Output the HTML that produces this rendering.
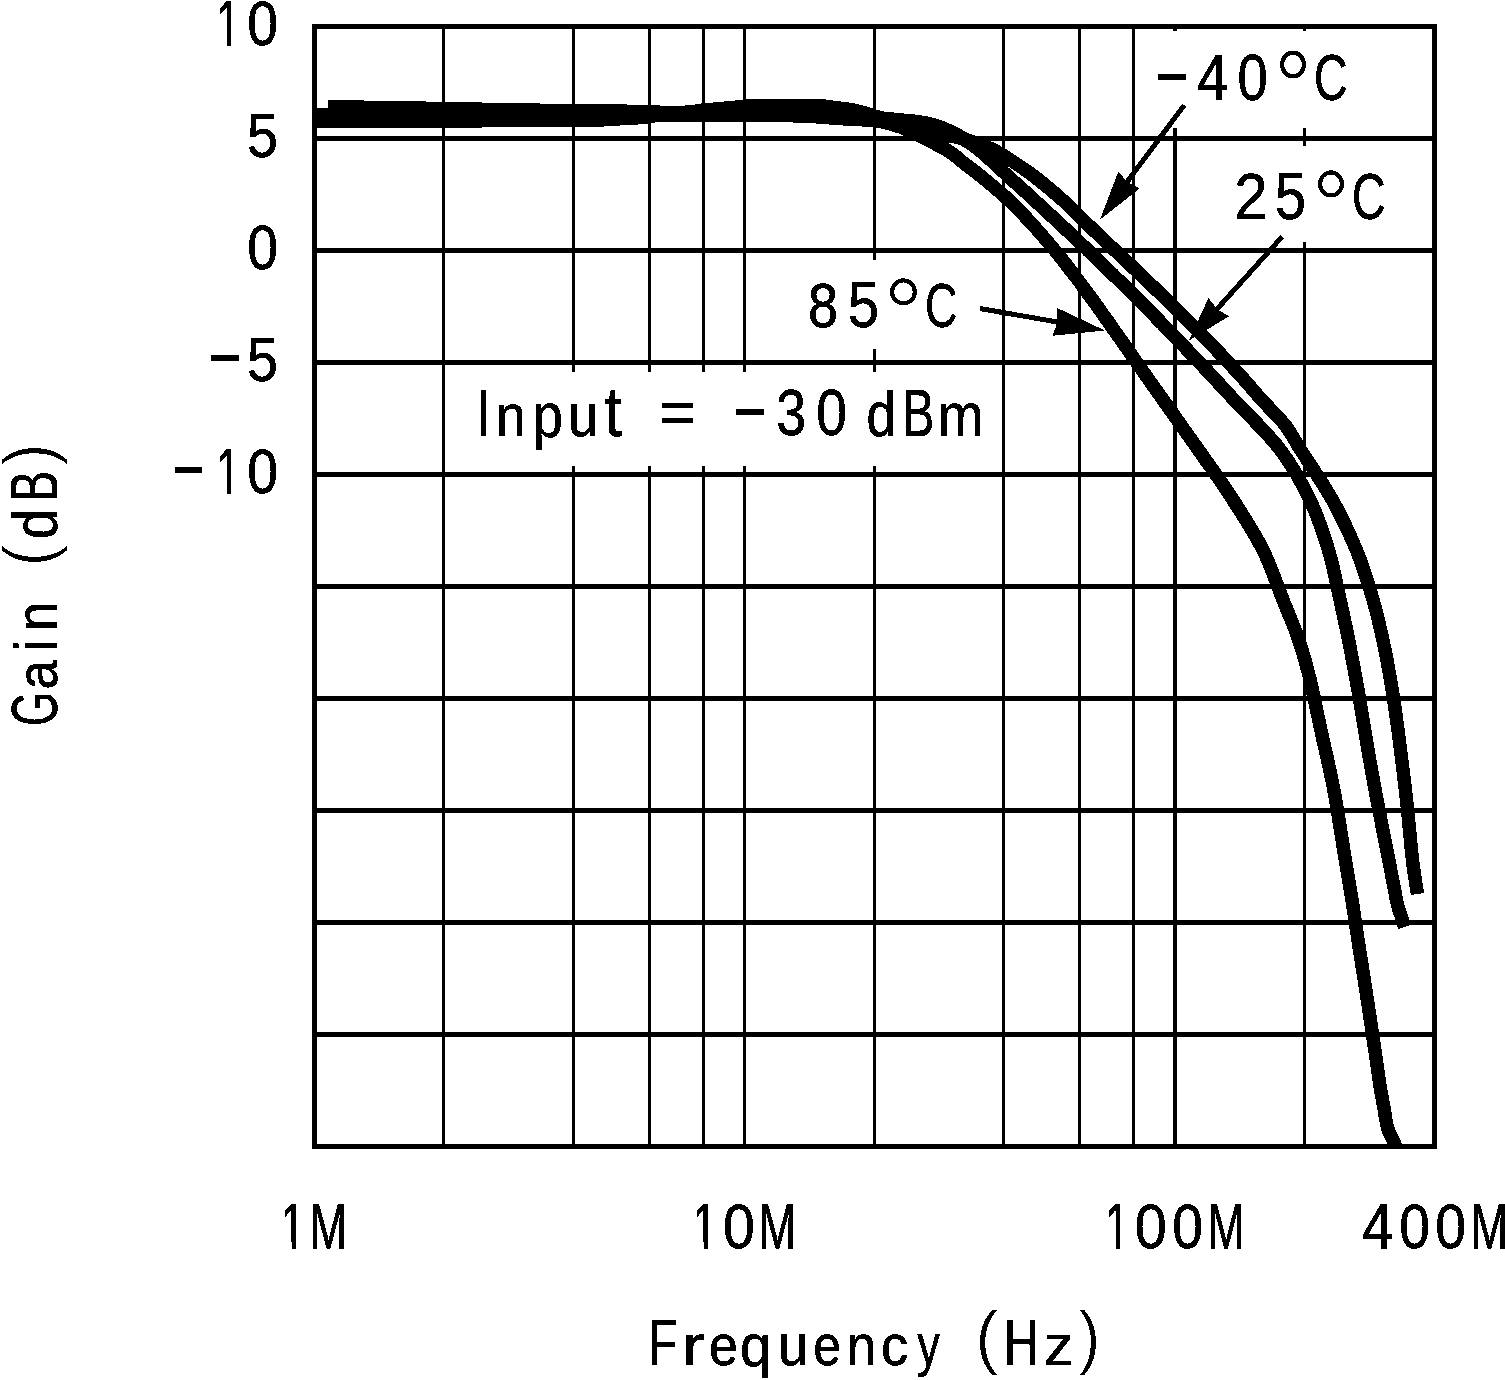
<!DOCTYPE html>
<html lang="en"><head><meta charset="utf-8"><title>Gain vs Frequency</title>
<style>
html,body{margin:0;padding:0;background:#fff;overflow:hidden}
svg{display:block;will-change:transform}
text{font-family:"Liberation Sans",Arial,sans-serif;fill:#000;stroke:#000;stroke-width:0.6px;stroke-linejoin:round}
tspan.d{stroke:#fff;stroke-width:1.0px}
.cv path{fill:none;stroke:#000;stroke-width:13.5;stroke-linejoin:round;stroke-linecap:butt}
.ar line{stroke:#000;stroke-width:5}
</style></head>
<body>
<svg width="1505" height="1380" viewBox="0 0 1505 1380" role="img" aria-label="Gain (dB) versus Frequency (Hz) at -40°C, 25°C and 85°C, Input = -30 dBm">
<defs>
<filter id="bin" filterUnits="userSpaceOnUse" x="0" y="0" width="1505" height="1380" color-interpolation-filters="sRGB"><feComponentTransfer><feFuncR type="discrete" tableValues="0 1"/><feFuncG type="discrete" tableValues="0 1"/><feFuncB type="discrete" tableValues="0 1"/></feComponentTransfer></filter>
<clipPath id="pc"><rect x="312" y="24" width="1125" height="1125"/></clipPath>
</defs>
<g filter="url(#bin)">
<rect width="1505" height="1380" fill="#fff"/>
<g fill="#000">
<rect x="442" y="24" width="3" height="1125"/>
<rect x="572" y="24" width="3" height="348"/>
<rect x="572" y="466" width="3" height="683"/>
<rect x="648" y="24" width="3" height="348"/>
<rect x="648" y="466" width="3" height="683"/>
<rect x="702" y="24" width="3" height="348"/>
<rect x="702" y="466" width="3" height="683"/>
<rect x="743" y="24" width="3" height="348"/>
<rect x="743" y="466" width="3" height="683"/>
<rect x="873" y="24" width="3" height="236"/>
<rect x="873" y="349" width="3" height="23"/>
<rect x="873" y="466" width="3" height="683"/>
<rect x="1002" y="24" width="3" height="1125"/>
<rect x="1078" y="24" width="3" height="1125"/>
<rect x="1132" y="24" width="3" height="1125"/>
<rect x="1173" y="24" width="4" height="7"/>
<rect x="1173" y="128" width="4" height="1021"/>
<rect x="1303" y="24" width="3" height="7"/>
<rect x="1303" y="128" width="3" height="18"/>
<rect x="1303" y="242" width="3" height="907"/>
<rect x="312" y="136" width="1125" height="5"/>
<rect x="312" y="248" width="1125" height="5"/>
<rect x="312" y="360" width="1125" height="5"/>
<rect x="312" y="472" width="1125" height="5"/>
<rect x="312" y="584" width="1125" height="5"/>
<rect x="312" y="696" width="1125" height="5"/>
<rect x="312" y="808" width="1125" height="5"/>
<rect x="312" y="920" width="1125" height="5"/>
<rect x="312" y="1032" width="1125" height="5"/>
</g>
<g class="cv" clip-path="url(#pc)">
<path d="M328.0,106.5 C337.3,106.7 365.3,107.2 384.0,107.5 C402.7,107.8 421.3,108.2 440.0,108.5 C458.7,108.8 477.3,109.2 496.0,109.5 C514.7,109.8 534.7,110.3 552.0,110.5 C569.3,110.7 585.3,110.6 600.0,110.8 C614.7,111.0 628.3,111.2 640.0,111.5 C651.7,111.8 661.7,112.4 670.0,112.5 C678.3,112.6 685.0,112.3 690.0,112.0 C695.0,111.7 695.0,111.0 700.0,110.5 C705.0,110.0 713.3,109.4 720.0,108.8 C726.7,108.2 734.2,107.3 740.0,106.8 C745.8,106.2 742.5,105.7 755.0,105.5 C767.5,105.3 802.5,105.2 815.0,105.5 C827.5,105.8 824.2,106.3 830.0,107.0 C835.8,107.7 844.2,108.5 850.0,109.5 C855.8,110.5 860.0,111.7 865.0,113.0 C870.0,114.3 874.2,116.3 880.0,117.5 C885.8,118.7 893.3,119.2 900.0,120.0 C906.7,120.8 913.8,121.0 920.0,122.0 C926.2,123.0 931.7,124.3 937.0,126.0 C942.3,127.7 947.3,129.8 952.0,132.0 C956.7,134.2 958.7,136.3 965.0,139.0 C971.3,141.7 983.3,145.4 990.0,148.3 C996.7,151.2 998.0,152.1 1005.0,156.5 C1012.0,160.9 1022.7,167.8 1032.3,175.0 C1041.9,182.2 1053.2,191.7 1062.5,200.0 C1071.8,208.3 1079.6,216.7 1088.3,225.0 C1097.0,233.3 1105.8,241.7 1114.6,250.0 C1123.4,258.3 1132.2,266.7 1140.9,275.0 C1149.6,283.3 1159.2,292.5 1166.9,300.0 C1174.6,307.5 1180.6,313.3 1187.3,320.0 C1194.0,326.7 1198.3,330.8 1207.1,340.0 C1215.9,349.2 1230.9,365.0 1240.0,375.0 C1249.1,385.0 1254.4,391.7 1261.9,400.0 C1269.4,408.3 1278.5,416.7 1285.0,425.0 C1291.5,433.3 1292.8,437.5 1300.7,450.0 C1308.6,462.5 1323.1,483.3 1332.4,500.0 C1341.7,516.7 1349.6,533.3 1356.4,550.0 C1363.2,566.7 1368.3,583.3 1373.1,600.0 C1377.9,616.7 1381.8,634.6 1385.0,650.0 C1388.2,665.4 1390.3,679.1 1392.5,692.4 C1394.7,705.7 1395.7,712.1 1398.0,730.0 C1400.3,747.9 1404.1,778.3 1406.5,800.0 C1408.9,821.7 1410.7,844.3 1412.5,860.0 C1414.3,875.7 1416.7,888.3 1417.5,894.0"/>
<path d="M314.0,114.5 C316.3,114.5 316.3,114.5 328.0,114.5 C339.7,114.5 365.3,114.4 384.0,114.5 C402.7,114.6 421.3,114.9 440.0,115.0 C458.7,115.1 477.3,114.9 496.0,115.0 C514.7,115.1 534.7,115.4 552.0,115.5 C569.3,115.6 585.3,115.5 600.0,115.3 C614.7,115.2 628.3,114.7 640.0,114.5 C651.7,114.3 660.0,114.2 670.0,114.0 C680.0,113.8 688.3,113.5 700.0,113.0 C711.7,112.5 726.7,111.6 740.0,111.2 C753.3,110.7 767.5,110.5 780.0,110.5 C792.5,110.5 803.3,110.5 815.0,111.1 C826.7,111.8 839.2,112.9 850.0,114.2 C860.8,115.6 870.0,117.5 880.0,119.5 C890.0,121.4 900.8,123.7 910.0,126.2 C919.2,128.7 926.7,132.7 935.0,134.6 C943.3,136.6 952.5,135.2 960.0,137.9 C967.5,140.6 972.2,144.4 980.0,150.6 C987.8,156.8 997.7,166.8 1006.7,175.0 C1015.7,183.2 1025.2,191.7 1034.2,200.0 C1043.3,208.3 1052.3,216.7 1061.2,225.0 C1070.1,233.3 1078.9,241.7 1087.6,250.0 C1096.3,258.3 1104.9,266.7 1113.4,275.0 C1122.0,283.3 1131.2,292.5 1138.7,300.0 C1146.2,307.5 1152.0,313.3 1158.5,320.0 C1165.1,326.7 1169.2,330.8 1178.0,340.0 C1186.8,349.2 1201.8,365.0 1211.2,375.0 C1220.5,385.0 1222.6,387.5 1234.2,400.0 C1245.7,412.5 1267.9,433.3 1280.5,450.0 C1293.1,466.7 1302.0,483.3 1310.0,500.0 C1318.0,516.7 1323.5,533.3 1328.5,550.0 C1333.5,566.7 1336.8,585.0 1340.1,600.0 C1343.4,615.0 1345.5,624.6 1348.6,640.0 C1351.6,655.4 1355.2,674.1 1358.4,692.4 C1361.6,710.7 1364.9,732.1 1368.0,750.0 C1371.1,767.9 1373.5,781.7 1377.0,800.0 C1380.5,818.3 1385.9,845.3 1388.8,860.0 C1391.7,874.7 1392.7,880.5 1394.2,888.0 C1395.7,895.5 1396.3,900.0 1397.6,905.0 C1398.9,910.0 1400.6,914.3 1401.8,918.0 C1403.0,921.7 1404.0,925.7 1404.5,927.2"/>
<path d="M314.0,121.5 C325.7,121.5 363.0,121.5 384.0,121.5 C405.0,121.5 426.7,121.6 440.0,121.5 C453.3,121.4 454.7,121.2 464.0,121.0 C473.3,120.8 481.3,120.6 496.0,120.5 C510.7,120.4 534.7,120.6 552.0,120.5 C569.3,120.4 585.3,120.4 600.0,119.9 C614.7,119.4 630.0,118.2 640.0,117.5 C650.0,116.8 650.0,115.8 660.0,115.5 C670.0,115.2 680.0,115.5 700.0,115.5 C720.0,115.5 763.3,115.4 780.0,115.5 C796.7,115.6 793.3,115.8 800.0,116.0 C806.7,116.2 813.3,116.6 820.0,117.0 C826.7,117.4 833.3,118.1 840.0,118.5 C846.7,118.9 853.3,119.0 860.0,119.5 C866.7,120.0 873.3,120.2 880.0,121.4 C886.7,122.7 894.0,124.9 900.0,127.0 C906.0,129.1 911.0,131.7 916.0,134.0 C921.0,136.3 924.3,138.0 930.0,141.0 C935.7,144.0 944.2,148.2 950.0,152.0 C955.8,155.8 960.0,160.1 965.0,164.0 C970.0,167.9 972.7,169.5 980.0,175.5 C987.3,181.5 1000.0,191.8 1008.8,200.0 C1017.6,208.2 1025.3,216.7 1032.9,225.0 C1040.5,233.3 1047.6,241.7 1054.5,250.0 C1061.4,258.3 1067.8,266.7 1074.2,275.0 C1080.6,283.3 1087.2,292.5 1092.7,300.0 C1098.2,307.5 1103.2,314.7 1107.0,320.0 C1110.8,325.3 1110.8,325.4 1115.4,332.0 C1120.0,338.6 1129.7,352.3 1134.7,359.5 C1139.7,366.7 1140.8,368.2 1145.5,375.0 C1150.2,381.8 1154.4,387.5 1163.2,400.0 C1172.0,412.5 1186.9,433.3 1198.6,450.0 C1210.2,466.7 1222.4,483.3 1233.1,500.0 C1243.8,516.7 1254.7,533.3 1263.0,550.0 C1271.3,566.7 1277.0,585.0 1283.0,600.0 C1289.0,615.0 1294.4,627.0 1298.8,640.0 C1303.2,653.0 1305.8,662.0 1309.6,677.7 C1313.4,693.4 1317.7,715.4 1321.8,734.2 C1325.9,753.0 1330.1,769.7 1334.0,790.7 C1337.9,811.7 1342.3,841.8 1345.3,860.0 C1348.3,878.2 1349.9,886.7 1352.0,900.0 C1354.1,913.3 1356.0,926.7 1358.0,940.0 C1360.0,953.3 1361.9,964.7 1364.3,980.0 C1366.7,995.3 1369.6,1014.7 1372.2,1032.0 C1374.8,1049.3 1377.7,1071.0 1379.7,1084.0 C1381.7,1097.0 1383.0,1102.5 1384.3,1110.0 C1385.6,1117.5 1386.1,1123.2 1387.8,1128.7 C1389.5,1134.2 1392.6,1139.1 1394.3,1143.0 C1396.0,1146.9 1397.4,1150.5 1398.0,1152.0"/>
</g>
<rect x="314.5" y="26.5" width="1120" height="1120" fill="none" stroke="#000" stroke-width="5"/>
<g class="ar" fill="#000">
<line x1="1184.2" y1="105.2" x2="1127" y2="182"/>
<polygon points="1099.9,219.8 1118.3,171.8 1127.5,182 1139.9,188.3"/>
<line x1="1282.2" y1="236.7" x2="1217" y2="309"/>
<polygon points="1188.7,340.7 1208.5,298 1217.5,309.5 1229.1,316.3"/>
<line x1="980" y1="308.5" x2="1060" y2="322.5"/>
<polygon points="1105,330.4 1057.2,307.9 1056.7,324.9 1052.2,335.8"/>
</g>
<text><tspan x="216.19" y="45.7" font-size="64.54" textLength="23.74" lengthAdjust="spacingAndGlyphs">1</tspan><tspan x="247.14" y="45.09" font-size="62.71" textLength="30.71" lengthAdjust="spacingAndGlyphs">0</tspan></text>
<text><tspan x="247.07" y="157.08" font-size="63.63" textLength="30.97" lengthAdjust="spacingAndGlyphs">5</tspan></text>
<text><tspan x="247.14" y="269.09" font-size="62.71" textLength="30.71" lengthAdjust="spacingAndGlyphs">0</tspan></text>
<text><tspan x="206.31" y="377.36" font-size="69.12" textLength="37.37" lengthAdjust="spacingAndGlyphs">-</tspan><tspan x="247.07" y="381.08" font-size="63.63" textLength="30.97" lengthAdjust="spacingAndGlyphs">5</tspan></text>
<text><tspan x="170.5" y="489.36" font-size="69.12" textLength="36.01" lengthAdjust="spacingAndGlyphs">-</tspan><tspan x="216.19" y="493.7" font-size="64.54" textLength="23.74" lengthAdjust="spacingAndGlyphs">1</tspan><tspan x="247.14" y="493.09" font-size="62.71" textLength="30.71" lengthAdjust="spacingAndGlyphs">0</tspan></text>
<text><tspan x="280.85" y="1248.7" font-size="64.54" textLength="24.31" lengthAdjust="spacingAndGlyphs">1</tspan><tspan x="309.57" y="1248.7" font-size="64.54" textLength="37.86" lengthAdjust="spacingAndGlyphs">M</tspan></text>
<text><tspan x="692.78" y="1248.7" font-size="64.54" textLength="24.42" lengthAdjust="spacingAndGlyphs">1</tspan><tspan x="723.06" y="1248.09" font-size="62.71" textLength="31.88" lengthAdjust="spacingAndGlyphs">0</tspan><tspan x="758.57" y="1248.7" font-size="64.54" textLength="37.86" lengthAdjust="spacingAndGlyphs">M</tspan></text>
<text><tspan x="1104.92" y="1248.7" font-size="64.54" textLength="24.2" lengthAdjust="spacingAndGlyphs">1</tspan><tspan x="1134.84" y="1248.09" font-size="62.71" textLength="32.11" lengthAdjust="spacingAndGlyphs">0</tspan><tspan x="1172.14" y="1248.09" font-size="62.71" textLength="30.71" lengthAdjust="spacingAndGlyphs">0</tspan><tspan x="1207.69" y="1248.7" font-size="64.54" textLength="36.61" lengthAdjust="spacingAndGlyphs">M</tspan></text>
<text><tspan x="1362.01" y="1248.7" font-size="64.54" textLength="31.34" lengthAdjust="spacingAndGlyphs">4</tspan><tspan x="1399.14" y="1248.09" font-size="62.71" textLength="30.71" lengthAdjust="spacingAndGlyphs">0</tspan><tspan x="1435.14" y="1248.09" font-size="62.71" textLength="30.71" lengthAdjust="spacingAndGlyphs">0</tspan><tspan x="1470.57" y="1248.7" font-size="64.54" textLength="37.86" lengthAdjust="spacingAndGlyphs">M</tspan></text>
<text><tspan x="648.37" y="1364.7" font-size="64.54" textLength="29.24" lengthAdjust="spacingAndGlyphs">F</tspan><tspan x="681.68" y="1364.7" font-size="56.5" textLength="23.18" lengthAdjust="spacingAndGlyphs">r</tspan><tspan x="709.09" y="1365.14" font-size="57.31" textLength="28.92" lengthAdjust="spacingAndGlyphs">e</tspan><tspan x="739.93" y="1366.05" font-size="59.01" textLength="31.38" lengthAdjust="spacingAndGlyphs">q</tspan><tspan x="777.72" y="1365.13" font-size="58.35" textLength="30.64" lengthAdjust="spacingAndGlyphs">u</tspan><tspan x="813.18" y="1365.14" font-size="57.31" textLength="27.73" lengthAdjust="spacingAndGlyphs">e</tspan><tspan x="846.8" y="1364.7" font-size="56.5" textLength="29.33" lengthAdjust="spacingAndGlyphs">n</tspan><tspan x="880.99" y="1365.14" font-size="57.31" textLength="27.14" lengthAdjust="spacingAndGlyphs">c</tspan><tspan x="917.19" y="1365.46" font-size="58.98" textLength="22.6" lengthAdjust="spacingAndGlyphs">y</tspan> <tspan class="d" x="975.06" y="1360.61" font-size="71.92" textLength="23.86" lengthAdjust="spacingAndGlyphs">(</tspan><tspan x="1003.85" y="1364.7" font-size="64.54" textLength="34.78" lengthAdjust="spacingAndGlyphs">H</tspan><tspan x="1043.89" y="1364.7" font-size="57.54" textLength="29.78" lengthAdjust="spacingAndGlyphs">z</tspan><tspan class="d" x="1078.1" y="1360.61" font-size="71.92" textLength="22.61" lengthAdjust="spacingAndGlyphs">)</tspan></text>
<text><tspan x="476.94" y="435.7" font-size="65.99" textLength="12.51" lengthAdjust="spacingAndGlyphs">I</tspan><tspan x="495.74" y="435.7" font-size="59.66" textLength="29.85" lengthAdjust="spacingAndGlyphs">n</tspan><tspan x="532.8" y="437.22" font-size="62.54" textLength="30.18" lengthAdjust="spacingAndGlyphs">p</tspan><tspan x="567.72" y="435.61" font-size="60.59" textLength="30.64" lengthAdjust="spacingAndGlyphs">u</tspan><tspan x="604.33" y="435.65" font-size="70.15" textLength="17.84" lengthAdjust="spacingAndGlyphs">t</tspan> <tspan x="659.24" y="432.81" font-size="60.2" textLength="36.54" lengthAdjust="spacingAndGlyphs">=</tspan> <tspan x="731.31" y="431.36" font-size="69.12" textLength="37.37" lengthAdjust="spacingAndGlyphs">-</tspan><tspan x="776.26" y="435.07" font-size="64.12" textLength="29.79" lengthAdjust="spacingAndGlyphs">3</tspan><tspan x="816.14" y="435.07" font-size="64.12" textLength="30.71" lengthAdjust="spacingAndGlyphs">0</tspan> <tspan x="866.57" y="435.59" font-size="62.5" textLength="29.56" lengthAdjust="spacingAndGlyphs">d</tspan><tspan x="902.39" y="435.7" font-size="65.99" textLength="31.83" lengthAdjust="spacingAndGlyphs">B</tspan><tspan x="937.66" y="435.7" font-size="60.21" textLength="45.65" lengthAdjust="spacingAndGlyphs">m</tspan></text>
<text><tspan x="1153.31" y="95.74" font-size="71.68" textLength="37.37" lengthAdjust="spacingAndGlyphs">-</tspan><tspan x="1197.01" y="99.7" font-size="65.12" textLength="31.34" lengthAdjust="spacingAndGlyphs">4</tspan><tspan x="1237.58" y="99.58" font-size="63.98" textLength="30.25" lengthAdjust="spacingAndGlyphs">0</tspan><tspan class="d" x="1273.76" y="122.5" font-size="103.12" textLength="38.52" lengthAdjust="spacingAndGlyphs">°</tspan><tspan x="1313.94" y="99.58" font-size="63.98" textLength="33.53" lengthAdjust="spacingAndGlyphs">C</tspan></text>
<text><tspan x="1234.28" y="218.7" font-size="65.02" textLength="33.45" lengthAdjust="spacingAndGlyphs">2</tspan><tspan x="1275.07" y="218.56" font-size="65.78" textLength="30.97" lengthAdjust="spacingAndGlyphs">5</tspan><tspan class="d" x="1311.76" y="241" font-size="102.4" textLength="38.52" lengthAdjust="spacingAndGlyphs">°</tspan><tspan x="1351.94" y="218.57" font-size="64.83" textLength="33.53" lengthAdjust="spacingAndGlyphs">C</tspan></text>
<text><tspan x="807.95" y="326.58" font-size="63.42" textLength="30.1" lengthAdjust="spacingAndGlyphs">8</tspan><tspan x="848.07" y="326.57" font-size="64.35" textLength="30.97" lengthAdjust="spacingAndGlyphs">5</tspan><tspan class="d" x="883.55" y="349.25" font-size="102.76" textLength="39.95" lengthAdjust="spacingAndGlyphs">°</tspan><tspan x="925.02" y="326.58" font-size="63.42" textLength="32.39" lengthAdjust="spacingAndGlyphs">C</tspan></text>
<g fill="#fff">
<rect x="218.7" y="39.68" width="7.93" height="6.97"/>
<rect x="231" y="39.68" width="7.7" height="6.97"/>
<rect x="218.7" y="487.68" width="7.93" height="6.97"/>
<rect x="231" y="487.68" width="7.7" height="6.97"/>
<rect x="283.41" y="1242.68" width="8.13" height="6.97"/>
<rect x="296" y="1242.68" width="7.9" height="6.97"/>
<rect x="695.35" y="1242.68" width="8.17" height="6.97"/>
<rect x="708" y="1242.68" width="7.93" height="6.97"/>
<rect x="1107.46" y="1242.68" width="8.09" height="6.97"/>
<rect x="1120" y="1242.68" width="7.86" height="6.97"/>
</g>
<g transform="translate(57 730) rotate(-90)">
<text><tspan x="4.09" y="-0.43" font-size="64.83" textLength="34.2" lengthAdjust="spacingAndGlyphs">G</tspan><tspan x="40.47" y="-0.37" font-size="58.23" textLength="29.23" lengthAdjust="spacingAndGlyphs">a</tspan><tspan x="78.8" y="-0.3" font-size="61.27" textLength="11.63" lengthAdjust="spacingAndGlyphs">i</tspan><tspan x="99.03" y="-0.3" font-size="58.35" textLength="29.06" lengthAdjust="spacingAndGlyphs">n</tspan> <tspan class="d" x="163.29" y="-4.39" font-size="71.92" textLength="22.61" lengthAdjust="spacingAndGlyphs">(</tspan><tspan x="191.02" y="-0.41" font-size="62.5" textLength="30.18" lengthAdjust="spacingAndGlyphs">d</tspan><tspan x="228.54" y="-0.3" font-size="65.99" textLength="30.58" lengthAdjust="spacingAndGlyphs">B</tspan><tspan class="d" x="264.1" y="-4.39" font-size="71.92" textLength="22.61" lengthAdjust="spacingAndGlyphs">)</tspan></text>
</g>
</g>
</svg>
</body></html>
